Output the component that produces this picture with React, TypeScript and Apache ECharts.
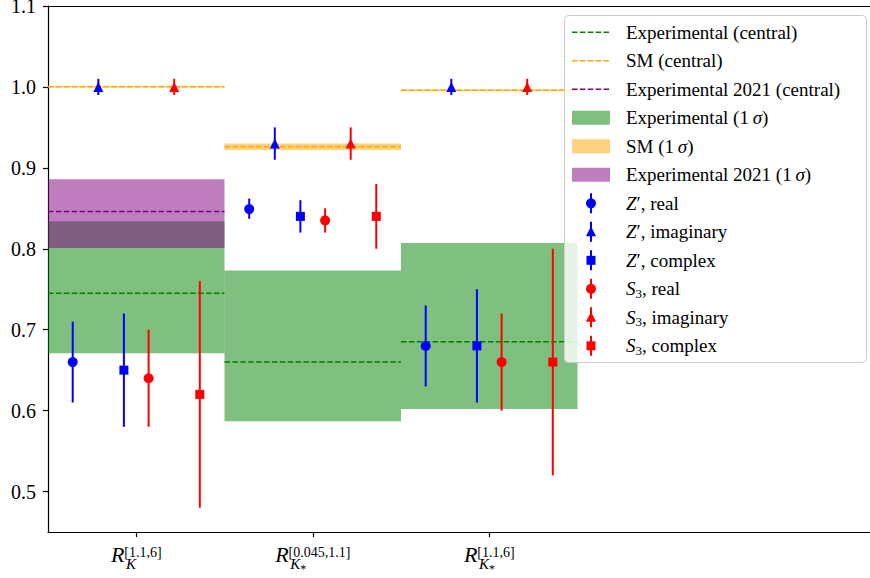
import React, { useEffect, useRef } from 'react';
import * as echarts from 'echarts';

const FONT = '"Liberation Serif", "Times New Roman", serif';

// categories (x positions 0,1,2)
const qRanges = ['[1.1,6]', '[0.045,1.1]', '[1.1,6]'];
const subs = ['K', 'K*', 'K*'];

// experimental bands
const expCentral = [0.745, 0.66, 0.685];
const expLow = [0.671, 0.587, 0.602];
const expHigh = [0.834, 0.773, 0.807];
// SM
const smCentral = [1.0003, 0.926, 0.996];
const smLow = [0.9993, 0.922, 0.995];
const smHigh = [1.0013, 0.93, 0.997];
// Experimental 2021 (only first bin)
const exp21Central = [0.846, null, null];
const exp21Low = [0.801, null, null];
const exp21High = [0.886, null, null];

// fit points
const zReal = [0.66, 0.849, 0.68];
const zRealLow = [0.61, 0.837, 0.63];
const zRealHigh = [0.71, 0.862, 0.73];
const zImag = [1.0, 0.93, 1.0];
const zImagLow = [0.99, 0.91, 0.99];
const zImagHigh = [1.01, 0.95, 1.01];
const zComplex = [0.65, 0.84, 0.68];
const zComplexLow = [0.58, 0.82, 0.61];
const zComplexHigh = [0.72, 0.86, 0.75];
const sReal = [0.64, 0.835, 0.66];
const sRealLow = [0.58, 0.82, 0.6];
const sRealHigh = [0.7, 0.85, 0.72];
const sImag = [1.0, 0.93, 1.0];
const sImagLow = [0.99, 0.91, 0.99];
const sImagHigh = [1.01, 0.95, 1.01];
const sComplex = [0.62, 0.84, 0.66];
const sComplexLow = [0.48, 0.8, 0.52];
const sComplexHigh = [0.76, 0.88, 0.8];

const yTicks = [0.5, 0.6, 0.7, 0.8, 0.9, 1.0, 1.1];

const GREEN = '#008000';
const ORANGE = '#FFA500';
const PURPLE = '#800080';
const BLUE = '#0000FF';
const RED = '#FF0000';

const pointSeries = [
  { name: "Z', real", vals: zReal, lo: zRealLow, hi: zRealHigh, color: BLUE, symbol: 'circle', size: 10, off: -0.36 },
  { name: "Z', imaginary", vals: zImag, lo: zImagLow, hi: zImagHigh, color: BLUE, symbol: 'triangle', size: [10, 10], off: -0.215 },
  { name: "Z', complex", vals: zComplex, lo: zComplexLow, hi: zComplexHigh, color: BLUE, symbol: 'rect', size: [9, 9], off: -0.07 },
  { name: 'S3, real', vals: sReal, lo: sRealLow, hi: sRealHigh, color: RED, symbol: 'circle', size: 10, off: 0.07 },
  { name: 'S3, imaginary', vals: sImag, lo: sImagLow, hi: sImagHigh, color: RED, symbol: 'triangle', size: [10, 10], off: 0.215 },
  { name: 'S3, complex', vals: sComplex, lo: sComplexLow, hi: sComplexHigh, color: RED, symbol: 'rect', size: [9, 9], off: 0.36 },
];

function bandSeries(name: string, lo: (number | null)[], hi: (number | null)[], fill: string) {
  const data: number[][] = [];
  lo.forEach((l, i) => {
    if (l != null && hi[i] != null) data.push([i, l, hi[i] as number]);
  });
  return {
    type: 'custom',
    name,
    data,
    renderItem: (params: any, api: any) => {
      const i = api.value(0);
      const p1 = api.coord([i - 0.5, api.value(2)]);
      const p2 = api.coord([i + 0.5, api.value(1)]);
      return {
        type: 'rect',
        shape: { x: p1[0], y: p1[1], width: p2[0] - p1[0], height: p2[1] - p1[1] },
        style: { fill },
      };
    },
  };
}

function centralSeries(name: string, c: (number | null)[], stroke: string) {
  const data: number[][] = [];
  c.forEach((v, i) => {
    if (v != null) data.push([i, v]);
  });
  return {
    type: 'custom',
    name,
    data,
    renderItem: (params: any, api: any) => {
      const i = api.value(0);
      const p1 = api.coord([i - 0.5, api.value(1)]);
      const p2 = api.coord([i + 0.5, api.value(1)]);
      return {
        type: 'line',
        shape: { x1: p1[0], y1: p1[1], x2: p2[0], y2: p2[1] },
        style: { stroke, lineWidth: 1.5, lineDash: [5.5, 2.4] },
      };
    },
  };
}

function errorSeries(ps: any) {
  return {
    type: 'custom',
    name: ps.name + ' err',
    data: ps.vals.map((v: number, i: number) => [i + ps.off, ps.lo[i], ps.hi[i]]),
    renderItem: (params: any, api: any) => {
      const p1 = api.coord([api.value(0), api.value(2)]);
      const p2 = api.coord([api.value(0), api.value(1)]);
      return {
        type: 'line',
        shape: { x1: p1[0], y1: p1[1], x2: p2[0], y2: p2[1] },
        style: { stroke: ps.color, lineWidth: 2 },
      };
    },
  };
}

function markerSeries(ps: any) {
  return {
    type: 'scatter',
    name: ps.name,
    symbol: ps.symbol,
    symbolSize: ps.size,
    itemStyle: { color: ps.color, opacity: 1 },
    data: ps.vals.map((v: number, i: number) => [i + ps.off, v]),
  };
}

const richBase = { fontFamily: FONT, fontSize: 19, lineHeight: 22, color: '#000' };
const legendRich = {
  i: { ...richBase, fontStyle: 'italic' },
  sub: { fontFamily: FONT, fontSize: 13, lineHeight: 13, verticalAlign: 'bottom', color: '#000' },
};

const legendRows = [
  { text: 'Experimental (central)', kind: 'line', color: GREEN },
  { text: 'SM (central)', kind: 'line', color: ORANGE },
  { text: 'Experimental 2021 (central)', kind: 'line', color: PURPLE },
  { text: 'Experimental (1\u2009{i|σ})', kind: 'rect', color: 'rgba(0,128,0,0.5)' },
  { text: 'SM (1\u2009{i|σ})', kind: 'rect', color: 'rgba(255,165,0,0.5)' },
  { text: 'Experimental 2021 (1\u2009{i|σ})', kind: 'rect', color: 'rgba(128,0,128,0.5)' },
  { text: '{i|Z}\u2032, real', kind: 'circle', color: BLUE },
  { text: '{i|Z}\u2032, imaginary', kind: 'triangle', color: BLUE },
  { text: '{i|Z}\u2032, complex', kind: 'square', color: BLUE },
  { text: '{i|S}{sub|3}, real', kind: 'circle', color: RED },
  { text: '{i|S}{sub|3}, imaginary', kind: 'triangle', color: RED },
  { text: '{i|S}{sub|3}, complex', kind: 'square', color: RED },
];

function buildLegend() {
  const els: any[] = [];
  els.push({
    type: 'rect',
    z: 100,
    shape: { x: 564.5, y: 15.5, width: 302, height: 347, r: 4 },
    style: { fill: 'rgba(255,255,255,0.8)', stroke: '#cccccc', lineWidth: 1 },
  });
  legendRows.forEach((row, k) => {
    const y = 32.3 + k * 28.5;
    const hx = 591;
    if (row.kind === 'line') {
      els.push({
        type: 'line', z: 101,
        shape: { x1: 572, y1: y, x2: 610, y2: y },
        style: { stroke: row.color, lineWidth: 1.5, lineDash: [5.5, 2.4] },
      });
    } else if (row.kind === 'rect') {
      els.push({
        type: 'rect', z: 101,
        shape: { x: 572, y: y - 7, width: 38, height: 14 },
        style: { fill: row.color },
      });
    } else {
      els.push({
        type: 'line', z: 101,
        shape: { x1: hx, y1: y - 10, x2: hx, y2: y + 10 },
        style: { stroke: row.color, lineWidth: 2 },
      });
      if (row.kind === 'circle') {
        els.push({ type: 'circle', z: 102, shape: { cx: hx, cy: y, r: 5 }, style: { fill: row.color } });
      } else if (row.kind === 'triangle') {
        els.push({
          type: 'polygon', z: 102,
          shape: { points: [[hx, y - 5.5], [hx + 5, y + 4.5], [hx - 5, y + 4.5]] },
          style: { fill: row.color },
        });
      } else {
        els.push({ type: 'rect', z: 102, shape: { x: hx - 4.5, y: y - 4.5, width: 9, height: 9 }, style: { fill: row.color } });
      }
    }
    els.push({
      type: 'text', z: 102,
      x: 626, y,
      style: {
        text: row.text,
        fontFamily: FONT, fontSize: 19, lineHeight: 22,
        fill: '#000',
        verticalAlign: 'middle', align: 'left',
        rich: legendRich,
      },
    });
  });
  return els;
}

export default function App() {
  const ref = useRef<HTMLDivElement>(null);
  useEffect(() => {
    if (!ref.current) return;
    const chart = echarts.init(ref.current, undefined, { renderer: 'svg' });
    const xMax = -0.5 + 822 / 176.5;
    const option: any = {
      animation: false,
      backgroundColor: '#fff',
      grid: { left: 48, right: 0, top: 6, bottom: 46, containLabel: false, outerBoundsMode: 'none' },
      xAxis: [
        {
          type: 'value', min: -0.5, max: xMax,
          axisLine: { show: true, onZero: false, lineStyle: { color: '#000', width: 1.2 } },
          splitLine: { show: false },
          axisTick: { show: true, customValues: [0, 1, 2], length: 5, lineStyle: { color: '#000', width: 1.2 } },
          axisLabel: {
            show: true,
            customValues: [0, 1, 2],
            margin: 13,
            formatter: (v: number) => {
              const i = Math.round(v);
              const s = subs[i];
              const subPart = s.endsWith('*') ? '{sub|K}{star|*}' : '{sub|K}';
              return '{R|R}{sup|' + qRanges[i] + '}\n' + subPart;
            },
            rich: {
              R: { fontFamily: FONT, fontSize: 22, fontStyle: 'italic', lineHeight: 18, color: '#000' },
              sup: { fontFamily: FONT, fontSize: 14, lineHeight: 2, verticalAlign: 'top', color: '#000' },
              sub: { fontFamily: FONT, fontSize: 15, fontStyle: 'italic', lineHeight: 2, align: 'left', padding: [0, 0, 0, 15], color: '#000' },
              star: { fontFamily: FONT, fontSize: 12, lineHeight: 2, align: 'left', verticalAlign: 'top', color: '#000' },
            },
          },
        },
        {
          type: 'value', position: 'top', min: -0.5, max: xMax,
          axisLine: { show: true, onZero: false, lineStyle: { color: '#000', width: 1.2 } },
          axisTick: { show: false },
          axisLabel: { show: false },
          splitLine: { show: false },
        },
      ],
      yAxis: {
        type: 'value', min: 0.45, max: 1.1,
        axisLine: { show: true, onZero: false, lineStyle: { color: '#000', width: 1.2 } },
        splitLine: { show: false },
        axisTick: { show: true, customValues: yTicks, length: 5, lineStyle: { color: '#000', width: 1.2 } },
        axisLabel: {
          show: true, customValues: yTicks, margin: 12,
          formatter: (v: number) => v.toFixed(1),
          fontFamily: FONT, fontSize: 20, color: '#000',
        },
      },
      series: [
        bandSeries('Experimental (1σ)', expLow, expHigh, 'rgba(0,128,0,0.5)'),
        bandSeries('SM (1σ)', smLow, smHigh, 'rgba(255,165,0,0.5)'),
        bandSeries('Experimental 2021 (1σ)', exp21Low, exp21High, 'rgba(128,0,128,0.5)'),
        centralSeries('Experimental (central)', expCentral, GREEN),
        centralSeries('SM (central)', smCentral, ORANGE),
        centralSeries('Experimental 2021 (central)', exp21Central, PURPLE),
        ...pointSeries.flatMap((ps) => [errorSeries(ps), markerSeries(ps)]),
      ],
      graphic: buildLegend(),
    };
    chart.setOption(option);
    return () => chart.dispose();
  }, []);
  return <div ref={ref} style={{ position: 'fixed', left: 0, top: 0, width: 870, height: 578 }} />;
}
